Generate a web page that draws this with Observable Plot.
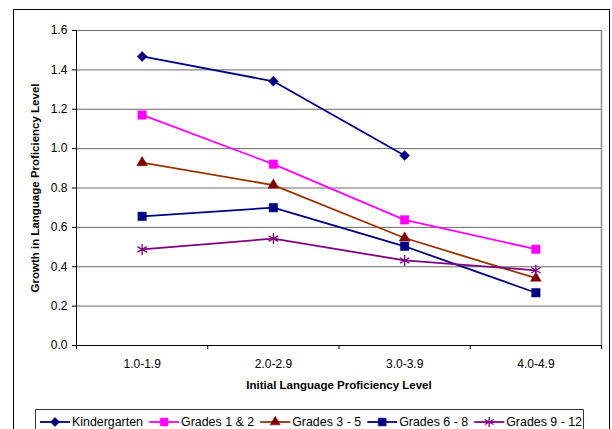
<!DOCTYPE html>
<html><head><meta charset="utf-8">
<script src="https://cdn.jsdelivr.net/npm/d3@7"></script>
<script src="https://cdn.jsdelivr.net/npm/@observablehq/plot@0.6"></script>
<style>body{margin:0;background:#fff;} #chart{position:relative;width:612px;height:429px;overflow:hidden}</style>
</head><body><div id="chart"></div>
<script>
const categories = ["1.0-1.9", "2.0-2.9", "3.0-3.9", "4.0-4.9"];
const seriesNames = ["Kindergarten", "Grades 1 & 2", "Grades 3 - 5", "Grades 6 - 8", "Grades 9 - 12"];
const kindergarten = [1.468, 1.342, 0.965, null];
const grades1and2 = [1.171, 0.921, 0.638, 0.489];
const grades3to5 = [0.929, 0.815, 0.546, 0.342];
const grades6to8 = [0.656, 0.700, 0.504, 0.268];
const grades9to12 = [0.488, 0.543, 0.432, 0.382];
const yTicks = [0, 0.2, 0.4, 0.6, 0.8, 1.0, 1.2, 1.4, 1.6];
const xTitle = "Initial Language Proficiency Level";
const yTitle = "Growth in Language Proficiency Level";

const seriesValues = [kindergarten, grades1and2, grades3to5, grades6to8, grades9to12];
const lineColors = ["#000080", "#FF00FF", "#993300", "#000080", "#800080"];
const markerColors = ["#000080", "#FF00FF", "#800000", "#000080", "#800080"];
const symbols = ["diamond2", "square", "triangle", "square", "asterisk"];
const d3symbols = [d3.symbolDiamond2, d3.symbolSquare, d3.symbolTriangle, d3.symbolSquare, d3.symbolAsterisk];
const radii = [4.5, 4.8, 4.0, 4.8, 5.2];

const rows = seriesNames.flatMap((s, si) =>
  seriesValues[si].map((v, i) => ({series: s, si, pos: i + 0.5, value: v})).filter(d => d.value != null));

const lines = seriesNames.map((s, si) =>
  Plot.line(rows.filter(d => d.si === si), {x: "pos", y: "value", stroke: lineColors[si], strokeWidth: 1.8}));
const dots = seriesNames.map((s, si) => {
  const hollow = symbols[si] === "asterisk";
  return Plot.dot(rows.filter(d => d.si === si), {
    x: "pos", y: "value", symbol: () => symbols[si], r: radii[si],
    fill: hollow ? "none" : markerColors[si], stroke: markerColors[si],
    strokeWidth: hollow ? 1.3 : 0.5
  });
});

const plot = Plot.plot({
  width: 612, height: 429,
  marginLeft: 76, marginRight: 11, marginTop: 30, marginBottom: 84,
  x: {domain: [0, 4]},
  y: {domain: [0, 1.6]},
  symbol: {type: "identity"},
  style: {fontFamily: "Arial, 'Liberation Sans', sans-serif", fontSize: "12px", background: "white", color: "#000"},
  marks: [
    Plot.ruleY(yTicks.filter(t => t > 0), {y: d => d, stroke: "#6a6a6a", strokeWidth: 1}),
    Plot.ruleX([4], {stroke: "#8c8c8c", strokeWidth: 1.5}),
    Plot.axisY({ticks: yTicks, tickFormat: d3.format(".1f"), tickSize: 4, tickPadding: 5, label: null, fontSize: 12}),
    Plot.axisX({ticks: [0, 1, 2, 3, 4], tickSize: 4, tickFormat: () => "", label: null}),
    Plot.axisX({ticks: categories.map((c, i) => i + 0.5), tickSize: 0, tickPadding: 14,
      tickFormat: t => categories[Math.floor(t)], label: null, fontSize: 12}),
    Plot.ruleX([0], {stroke: "#000"}),
    Plot.ruleY([0], {stroke: "#000"}),
    ...lines,
    ...dots,
    Plot.text([yTitle], {text: d => d, frameAnchor: "left", textAnchor: "middle", lineAnchor: "middle", rotate: -90, dx: -41, fontWeight: "bold", fontSize: 11.5}),
    Plot.text([xTitle], {text: d => d, frameAnchor: "bottom", dy: 40, lineAnchor: "middle", fontWeight: "bold", fontSize: 11.5})
  ]
});

document.getElementById("chart").appendChild(plot);

// chart-area border and legend
const svg = d3.select(plot);
svg.append("path").attr("d", "M13.5,440V9.5H609.5V440")
  .attr("fill", "none").attr("stroke", "#000").attr("stroke-width", 1);
const lg = svg.append("g").attr("text-anchor", "start");
lg.append("path").attr("d", "M35.5,440V409.5H583.5V440")
  .attr("fill", "white").attr("stroke", "#333").attr("stroke-width", 1);
const ly = 422, lineLen = 30, textGap = 2, startX = 40, endX = 582;
const texts = seriesNames.map(s => lg.append("text").attr("y", ly).attr("dy", "0.35em")
  .attr("text-anchor", "start").attr("font-size", 12.4).attr("fill", "#000").text(s));
const widths = texts.map(t => t.node().getComputedTextLength());
const used = d3.sum(widths) + seriesNames.length * (lineLen + textGap);
const itemGap = (endX - startX - used) / (seriesNames.length - 1);
let cx = startX;
seriesNames.forEach((s, si) => {
  const x1 = cx, x2 = cx + lineLen;
  lg.append("line").attr("x1", x1).attr("x2", x2).attr("y1", ly).attr("y2", ly)
    .attr("stroke", lineColors[si]).attr("stroke-width", 1.8);
  const hollow = symbols[si] === "asterisk";
  lg.append("path").attr("d", d3.symbol(d3symbols[si], Math.PI * radii[si] * radii[si] * 0.85)())
    .attr("transform", `translate(${(x1 + x2) / 2},${ly})`)
    .attr("fill", hollow ? "none" : markerColors[si]).attr("stroke", markerColors[si])
    .attr("stroke-width", hollow ? 1.3 : 0.5);
  texts[si].attr("x", x2 + textGap);
  cx = x2 + textGap + widths[si] + itemGap;
});
</script>
</body></html>
